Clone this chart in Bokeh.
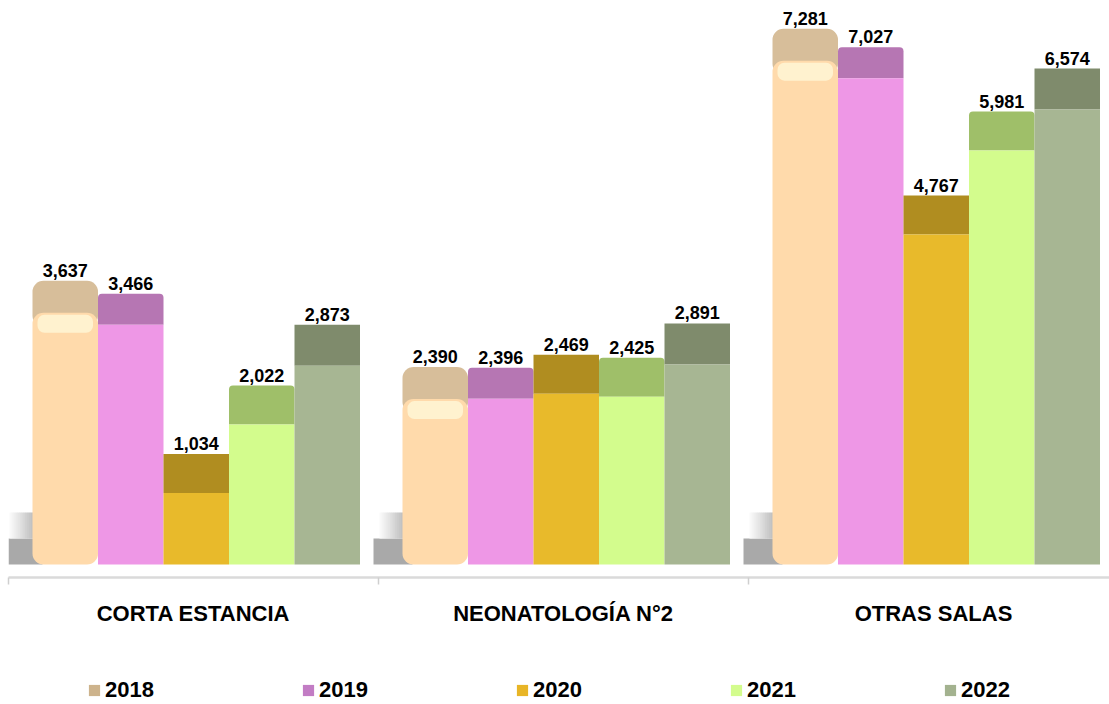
from bokeh.plotting import figure
from bokeh.layouts import column
from bokeh.models import ColumnDataSource, FixedTicker, Legend, LegendItem, Range1d
from bokeh.embed import file_html
from bokeh.resources import INLINE
from bokeh.core.properties import value

# ---------------- data ----------------
categories = ["CORTA ESTANCIA", "NEONATOLOGÍA N°2", "OTRAS SALAS"]
years = ["2018", "2019", "2020", "2021", "2022"]
v2018 = [3637, 2390, 7281]
v2019 = [3466, 2396, 7027]
v2020 = [1034, 2469, 4767]
v2021 = [2022, 2425, 5981]
v2022 = [2873, 2891, 6574]
series = [v2018, v2019, v2020, v2021, v2022]

# ---------------- style ----------------
front_colors = ["#FFDAAB", "#EE97E6", "#E8BA2B", "#D3FC8D", "#A7B693"]
cap_colors = ["#D7BE9A", "#B676B3", "#B08D20", "#9FBF69", "#7F8B6C"]
legend_colors = ["#CDB38C", "#C27CC4", "#E8B526", "#D3FC8D", "#A3B28F"]
depth_px = [32, 31, 39, 39, 41]

FONT = "Liberation Sans"
FRAME_W, FRAME_H = 1101, 569
GROUP_PX = 370.0
PX_PER_UNIT = 0.0692
BASE_FROM_BOTTOM = 13          # px between bar base and axis line
Y0 = -BASE_FROM_BOTTOM / PX_PER_UNIT
Y1 = Y0 + FRAME_H / PX_PER_UNIT
PAD = 24 / GROUP_PX
BW = 65.5 / GROUP_PX
NAN = float("nan")


def px2u(px):
    return px / PX_PER_UNIT


p = figure(frame_width=FRAME_W, frame_height=FRAME_H,
           x_range=Range1d(0, FRAME_W / GROUP_PX), y_range=Range1d(Y0, Y1),
           output_backend="svg", toolbar_location=None, y_axis_location=None,
           min_border=0, min_border_left=8, min_border_top=8, title=None)
p.outline_line_color = None
p.xgrid.visible = False
p.ygrid.visible = False
p.background_fill_color = "white"
p.border_fill_color = "white"

# ---------------- floor shadow at the left of each group ----------------
n = len(categories)
N_STRIPS = 16
for g in range(n):
    # darker lower band
    p.quad(left=[max(0, g - 5 / GROUP_PX)], right=[g + PAD + 10 / GROUP_PX],
           bottom=[0], top=[px2u(26)], fill_color="#A9A9A9", line_color=None)
    # lighter upper band with a horizontal fade
    x0 = g + 1 / GROUP_PX
    x1 = g + PAD + 8 / GROUP_PX
    step = (x1 - x0) / N_STRIPS
    for k in range(N_STRIPS):
        t = min(1.0, (k + 0.5) / (N_STRIPS * 0.75))
        gv = int(252 - t * (252 - 192))
        c = "#%02x%02x%02x" % (gv, gv, gv)
        p.quad(left=[x0 + k * step], right=[x0 + (k + 1) * step + 0.3 / GROUP_PX],
               bottom=[px2u(26)], top=[px2u(52)], fill_color=c, line_color=None)

# ---------------- bars ----------------
for i, vals in enumerate(series):
    left = [g + PAD + BW * i for g in range(n)]
    right = [l + BW for l in left]
    xc = [l + BW / 2 for l in left]
    d = px2u(depth_px[i])
    src = ColumnDataSource(dict(
        left=left, right=right, x=xc, top=vals,
        cap_top=[v + d for v in vals],
        cap_bottom=[v - px2u(14) for v in vals],
        label=[f"{v:,}" for v in vals],
    ))
    if i == 0:
        p.quad(left="left", right="right", bottom="cap_bottom", top="cap_top", source=src,
               fill_color=cap_colors[i], line_color=None, border_radius=11)
        p.quad(left="left", right="right", bottom=0, top="top", source=src,
               fill_color=front_colors[i], line_color=None, border_radius=11)
        # soft side shading
        p.quad(left="left", right=[l + 4 / GROUP_PX for l in left], bottom=px2u(10),
               top=[v - px2u(8) for v in vals],
               fill_color="#E8C99A", line_color=None, fill_alpha=0.6)
        p.quad(left=[r - 4 / GROUP_PX for r in right], right="right", bottom=px2u(10),
               top=[v - px2u(8) for v in vals],
               fill_color="#E8C99A", line_color=None, fill_alpha=0.6)
        # highlight band at the top of the front face
        hl_src = ColumnDataSource(dict(
            left=[l + 5 / GROUP_PX for l in left], right=[r - 5 / GROUP_PX for r in right],
            bottom=[v - px2u(20) for v in vals], top=[v - px2u(2) for v in vals]))
        p.quad(left="left", right="right", bottom="bottom", top="top", source=hl_src,
               fill_color="#FFF2CF", line_color=None, border_radius=7)
    else:
        p.quad(left="left", right="right", bottom="top", top="cap_top", source=src,
               fill_color=cap_colors[i], line_color=None,
               border_radius=(4, 4, 0, 0) if i in (1, 3) else 0)
        p.quad(left="left", right="right", bottom=0, top="top", source=src,
               fill_color=front_colors[i], line_color=None)
    p.text(x="x", y="cap_top", text="label", source=src,
           text_font=value(FONT), text_font_style="bold", text_font_size="18px",
           text_align="center", text_baseline="bottom", y_offset=-4, text_color="#000000")

# ---------------- x axis ----------------
ax = p.xaxis[0]
ax.ticker = FixedTicker(ticks=[g + 0.5 for g in range(n)], minor_ticks=list(range(n + 1)))
ax.major_label_overrides = {g + 0.5: categories[g] for g in range(n)}
ax.major_tick_line_color = None
ax.major_tick_out = 0
ax.major_tick_in = 0
ax.minor_tick_out = 7
ax.minor_tick_in = 0
ax.minor_tick_line_color = "#CFCFCF"
ax.minor_tick_line_width = 1.5
ax.axis_line_color = "#DADADA"
ax.axis_line_width = 2.5
ax.major_label_standoff = 16
ax.major_label_text_font = FONT
ax.major_label_text_font_style = "bold"
ax.major_label_text_font_size = "22px"
ax.major_label_text_color = "#000000"

# ---------------- legend strip (second figure under the chart) ----------------
LEG_H = 79
pl = figure(width=FRAME_W + 8, height=LEG_H, x_range=Range1d(0, 1), y_range=Range1d(0, 1),
            output_backend="svg", toolbar_location=None,
            x_axis_location=None, y_axis_location=None, min_border=0, title=None)
pl.outline_line_color = None
pl.xgrid.visible = False
pl.ygrid.visible = False
legend_items = []
for i, yr in enumerate(years):
    # legend proxy: a swatch renderer with no drawable geometry
    r = pl.quad(left=[NAN], right=[NAN], bottom=[NAN], top=[NAN],
                fill_color=legend_colors[i], line_color=None)
    legend_items.append(LegendItem(label=yr, renderers=[r]))

legend = Legend(items=legend_items, orientation="horizontal", location=(79, 4),
                glyph_width=14, glyph_height=14, label_standoff=4, label_width=55,
                spacing=141, padding=0, margin=0, border_line_color=None,
                background_fill_alpha=0,
                label_text_font=FONT, label_text_font_style="bold",
                label_text_font_size="22px", label_text_color="#000000")
pl.add_layout(legend)

layout = column(p, pl, spacing=0)
open("out.html", "w").write(file_html(layout, INLINE))
